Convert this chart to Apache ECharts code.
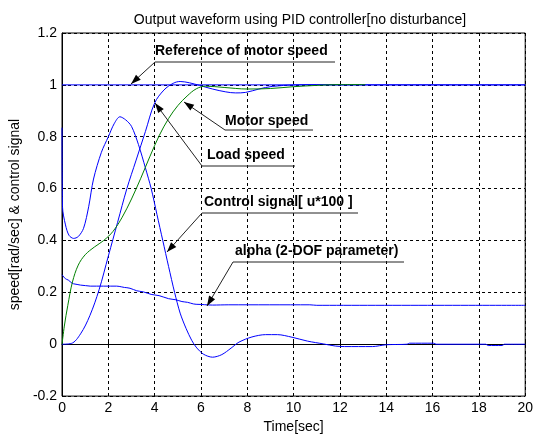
<!DOCTYPE html>
<html>
<head>
<meta charset="utf-8">
<script src="https://cdn.jsdelivr.net/npm/echarts@6/dist/echarts.min.js"></script>
<style>html,body{margin:0;padding:0;background:#fff}#c{width:536px;height:439px}</style>
</head>
<body>
<div id="c"></div>
<script>
// ---- data ----
const xTicks = [0, 2, 4, 6, 8, 10, 12, 14, 16, 18, 20];
const yTicks = [-0.2, 0, 0.2, 0.4, 0.6, 0.8, 1.0, 1.2];

const refT = [0, 20];
const refV = [1, 1];

const loadT = [0, 0.4, 0.8, 1.2, 1.6, 2.0, 2.4, 2.8, 3.2, 3.6, 4.0, 4.4, 4.8, 5.1, 5.5, 5.93, 6.5, 7.07, 7.5, 7.93, 8.5, 9.07, 10.07, 11, 12, 13, 14, 20];
const loadV = [0, 0.003, 0.04, 0.11, 0.21, 0.34, 0.47, 0.6, 0.71, 0.82, 0.93, 0.98, 1.006, 1.013, 1.008, 0.998, 0.984, 0.973, 0.969, 0.971, 0.984, 0.994, 1.0, 1.001, 1.0, 1.0, 1.0, 1.0];

const motorT = [0, 0.1, 0.25, 0.45, 0.7, 1.0, 1.4, 1.8, 2.2, 2.6, 3.0, 3.4, 3.8, 4.2, 4.6, 5.0, 5.4, 5.8, 6.2, 7.0, 8.0, 9.0, 10.0, 11.0, 12.0, 13.1];
const motorV = [0, 0.07, 0.15, 0.24, 0.305, 0.345, 0.375, 0.4, 0.435, 0.49, 0.56, 0.64, 0.725, 0.805, 0.87, 0.92, 0.957, 0.985, 0.995, 0.99, 0.984, 0.986, 0.993, 0.998, 1.001, 1.001];

const ctrlT = [0, 0.02, 0.15, 0.3, 0.5, 0.7, 0.93, 1.15, 1.36, 1.7, 2.0, 2.25, 2.5, 2.75, 3.0, 3.3, 3.6, 3.85, 4.1, 4.35, 4.6, 4.86, 5.1, 5.36, 5.6, 5.79, 6.1, 6.5, 6.9, 7.3, 7.64, 8.2, 8.79, 9.3, 9.93, 10.6, 11.3, 11.8, 12.2, 13.4, 14.0, 14.9, 15.0, 16.05, 16.15, 18.3, 18.4, 19.0, 19.1, 20];
const ctrlV = [0.835, 0.53, 0.46, 0.42, 0.408, 0.415, 0.447, 0.53, 0.637, 0.74, 0.8, 0.85, 0.877, 0.865, 0.84, 0.77, 0.68, 0.6, 0.5, 0.4, 0.3, 0.2, 0.12, 0.06, 0.015, -0.011, -0.038, -0.05, -0.04, -0.015, 0.008, 0.028, 0.037, 0.037, 0.027, 0.012, 0.001, -0.007, -0.009, -0.009, -0.002, 0.0, 0.004, 0.004, 0, 0, -0.005, -0.005, 0, 0];

const alphaT = [0, 0.2, 0.5, 0.8, 1.22, 2.36, 2.8, 3.36, 4.0, 4.79, 5.3, 5.79, 6.5, 7.2, 10.7, 11, 20];
const alphaV = [0.268, 0.25, 0.233, 0.228, 0.224, 0.224, 0.218, 0.204, 0.19, 0.173, 0.163, 0.154, 0.151, 0.152, 0.152, 0.15, 0.15];

const titleText = 'Output waveform using PID controller[no disturbance]';
const xName = 'Time[sec]';
const yName = 'speed[rad/sec] & control signal';

const annoText = ['Reference of motor speed', 'Motor speed', 'Load speed', 'Control signal[ u*100 ]', 'alpha (2-DOF parameter)'];

// ---- layout (pixels) ----
const G = {left: 61, right: 7, top: 33, bottom: 39};
const annoLayout = [
  {tx: 155, ty: 52, ux1: 155, ux2: 335, uy: 62, ax: 131, ay: 84},
  {tx: 225, ty: 122, ux1: 225, ux2: 313, uy: 130, ax: 184, ay: 102},
  {tx: 207, ty: 156, ux1: 202, ux2: 295, uy: 166, ax: 155, ay: 103},
  {tx: 204, ty: 203, ux1: 202, ux2: 358, uy: 213, ax: 167, ay: 252},
  {tx: 235, ty: 252, ux1: 233, ux2: 404, uy: 262, ax: 207, ay: 306}
];

function pairs(t, v) { return t.map((x, i) => [x, v[i]]); }

const FONT = "'Liberation Sans', Arial, sans-serif";
const FS = 14;
const graphics = [];
annoText.forEach((txt, i) => {
  const L = annoLayout[i];
  graphics.push({type: 'text', left: L.tx, top: L.ty - 8, style: {text: txt, font: "bold 14px " + FONT, fill: '#000'}, z: 100});
  graphics.push({type: 'polyline', shape: {points: [[L.ax, L.ay], [L.ux1, L.uy], [L.ux2, L.uy]]}, style: {stroke: '#222', lineWidth: 1, fill: null}, z: 100});
  const dx = L.ax - L.ux1, dy = L.ay - L.uy, len = Math.hypot(dx, dy);
  const ux = dx / len, uy = dy / len, nx = -uy, ny = ux;
  const hl = 10, hw = 3.5;
  const bx = L.ax - ux * hl, by = L.ay - uy * hl;
  graphics.push({type: 'polygon', shape: {points: [[L.ax, L.ay], [bx + nx * hw, by + ny * hw], [bx - nx * hw, by - ny * hw]]}, style: {fill: '#000'}, z: 100});
});

const chart = echarts.init(document.getElementById('c'), null, {renderer: 'canvas'});
const lineBase = {type: 'line', showSymbol: false, symbol: 'none', animation: false};
chart.setOption({
  animation: false,
  backgroundColor: '#fff',
  title: {text: titleText, left: 295, top: 8, textAlign: 'center',
    textStyle: {fontSize: FS, fontWeight: 'normal', color: '#000', fontFamily: FONT}},
  grid: {left: G.left, right: G.right, top: G.top, bottom: G.bottom, show: true, borderColor: '#000', borderWidth: 1, containLabel: false},
  xAxis: {type: 'value', min: xTicks[0], max: xTicks[xTicks.length - 1], interval: 2,
    name: xName, nameLocation: 'middle', nameGap: 22,
    nameTextStyle: {fontSize: FS, color: '#000', fontFamily: FONT},
    axisLine: {show: true, lineStyle: {color: '#000'}},
    axisTick: {show: true, inside: true, length: 4, lineStyle: {color: '#000'}},
    axisLabel: {fontSize: FS, color: '#000', fontFamily: FONT, margin: 5},
    splitLine: {show: true, lineStyle: {color: '#000', type: [3, 3], width: 1}}},
  yAxis: {type: 'value', min: yTicks[0], max: yTicks[yTicks.length - 1], interval: 0.2,
    name: yName, nameLocation: 'middle', nameGap: 40, nameRotate: 90,
    nameTextStyle: {fontSize: FS, color: '#000', fontFamily: FONT},
    axisLine: {show: true, lineStyle: {color: '#000'}},
    axisTick: {show: true, inside: true, length: 4, lineStyle: {color: '#000'}},
    axisLabel: {fontSize: FS, color: '#000', fontFamily: FONT, margin: 5,
      formatter: v => String(Math.round(v * 10) / 10)},
    splitLine: {show: true, lineStyle: {color: '#000', type: [3, 3], width: 1}}},
  series: [
    Object.assign({}, lineBase, {name: 'Reference of motor speed', data: pairs(refT, refV), lineStyle: {width: 1, color: '#0000ff'}, itemStyle: {color: '#0000ff'}}),
    Object.assign({}, lineBase, {name: 'Load speed', data: pairs(loadT, loadV), smooth: 0.35, lineStyle: {width: 1, color: '#0000ff'}, itemStyle: {color: '#0000ff'}}),
    Object.assign({}, lineBase, {name: 'Control signal', data: pairs(ctrlT, ctrlV), smooth: 0.3, lineStyle: {width: 1, color: '#0000ff'}, itemStyle: {color: '#0000ff'}}),
    Object.assign({}, lineBase, {name: 'alpha', data: pairs(alphaT, alphaV), smooth: 0.3, smoothMonotone: 'x', lineStyle: {width: 1, color: '#0000ff'}, itemStyle: {color: '#0000ff'}}),
    Object.assign({}, lineBase, {name: 'Motor speed', data: pairs(motorT, motorV), smooth: 0.35, lineStyle: {width: 1, color: '#008000'}, itemStyle: {color: '#008000'}})
  ],
  graphic: graphics
});
</script>
</body>
</html>
